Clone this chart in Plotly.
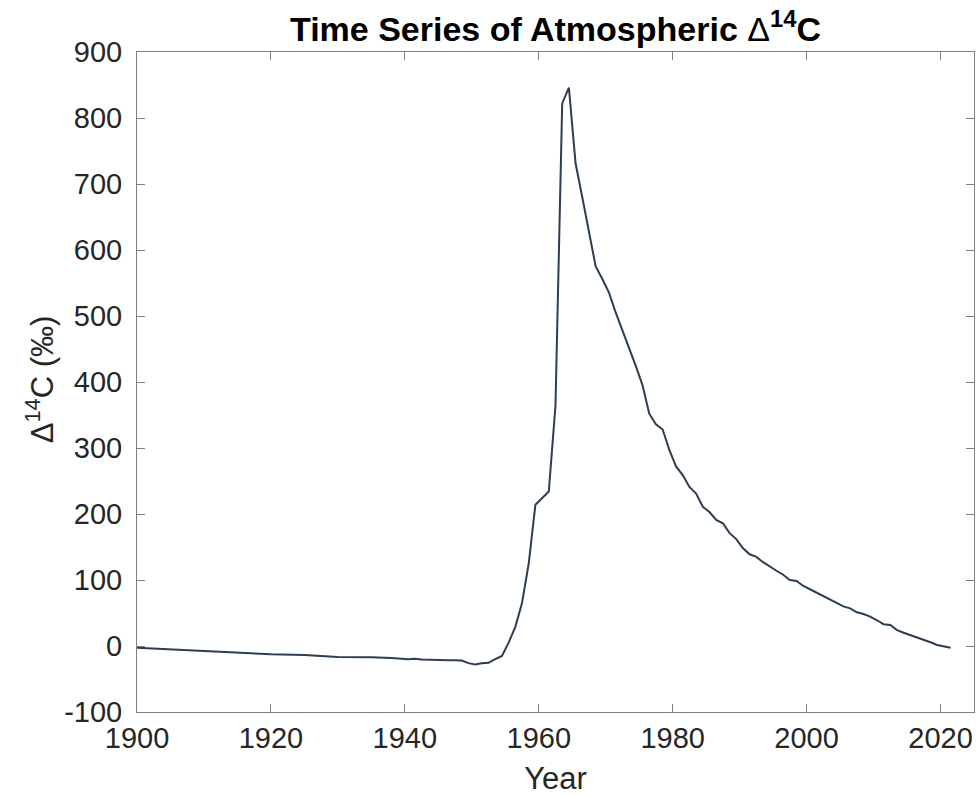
import plotly.graph_objects as go

years = [1900, 1905, 1910, 1915, 1920, 1925, 1930, 1935, 1938,
         1940.5, 1941.5, 1942.5, 1943.5, 1944.5, 1945.5, 1946.5, 1947.5, 1948.5,
         1949.5, 1950.5, 1951.5, 1952.5, 1953.5, 1954.5, 1955.5, 1956.5, 1957.5,
         1958.5, 1959.5, 1960.5, 1961.5, 1962.5, 1963.5, 1964.5, 1965.5, 1966.5,
         1967.5, 1968.5, 1969.5, 1970.5, 1971.5, 1972.5, 1973.5, 1974.5, 1975.5,
         1976.5, 1977.5, 1978.5, 1979.5, 1980.5, 1981.5, 1982.5, 1983.5, 1984.5,
         1985.5, 1986.5, 1987.5, 1988.5, 1989.5, 1990.5, 1991.5, 1992.5, 1993.5,
         1994.5, 1995.5, 1996.5, 1997.5, 1998.5, 1999.5, 2000.5, 2001.5, 2002.5,
         2003.5, 2004.5, 2005.5, 2006.5, 2007.5, 2008.5, 2009.5, 2010.5, 2011.5,
         2012.5, 2013.5, 2014.5, 2015.5, 2016.5, 2017.5, 2018.5, 2019.5, 2020.5,
         2021.5]
d14c = [-2.5, -5, -7.5, -9, -12.5, -13.5, -16.5, -17, -18,
        -20, -19.5, -20.5, -21, -20.5, -22, -21.5, -21.5, -22,
        -26, -28, -26, -25.5, -20, -15, 5, 29, 65,
        125, 214, 224, 234, 365, 822, 846, 731, 680,
        625, 575, 556, 535, 505, 478, 453, 424, 395,
        352, 336, 328, 297, 272, 259, 241, 231, 211,
        203, 191, 186, 171, 162, 148, 139, 135, 127,
        120, 114, 108, 100, 98.5, 91, 86, 81, 76,
        71, 65, 60, 57, 51, 48.5, 44.5, 39, 33,
        32, 24, 20, 16.7, 12.6, 9, 5.6, 1.5, -1,
        -2.5]

x_ticks = [1900, 1920, 1940, 1960, 1980, 2000, 2020]
y_ticks = [-100, 0, 100, 200, 300, 400, 500, 600, 700, 800, 900]

FONT = "Liberation Sans, Arial, Helvetica, sans-serif"
AX = "#808080"
TXT = "#262626"

fig = go.Figure()
fig.add_trace(go.Scatter(x=years, y=d14c, mode="lines",
                         line=dict(color="#2c3e50", width=2), showlegend=False))

fig.update_layout(
    width=979, height=797,
    margin=dict(l=137, r=5, t=52, b=85),
    paper_bgcolor="white", plot_bgcolor="white",
    font=dict(family=FONT, size=29, color=TXT),
    title=dict(text="<b>Time Series of Atmospheric</b> Δ<b><sup>14</sup>C</b>",
               x=0.5, xref="paper", y=0.963, yref="container",
               xanchor="center", yanchor="middle",
               font=dict(family=FONT, size=34, color="black")),
    annotations=[dict(text="Δ<sup>14</sup>C (‰)", textangle=-90,
                      xref="paper", yref="paper", x=-0.1165, y=0.505,
                      xanchor="center", yanchor="middle", showarrow=False,
                      font=dict(family=FONT, size=31, color=TXT))],
)
fig.update_xaxes(range=[1900, 2025], tickvals=x_ticks, ticktext=[str(v) for v in x_ticks],
                 showgrid=False, zeroline=False, showline=True, linecolor=AX, linewidth=1,
                 mirror="ticks", ticks="inside", ticklen=8, tickcolor=AX,
                 tickfont=dict(size=29, color=TXT),
                 title=dict(text="Year", font=dict(size=31, color=TXT), standoff=14))
fig.update_yaxes(range=[-100, 900], tickvals=y_ticks, ticktext=[str(v) for v in y_ticks],
                 showgrid=False, zeroline=False, showline=True, linecolor=AX, linewidth=1,
                 mirror="ticks", ticks="inside", ticklen=8, tickcolor=AX,
                 tickfont=dict(size=29, color=TXT), ticklabelstandoff=8)

fig.write_html("out.html")
